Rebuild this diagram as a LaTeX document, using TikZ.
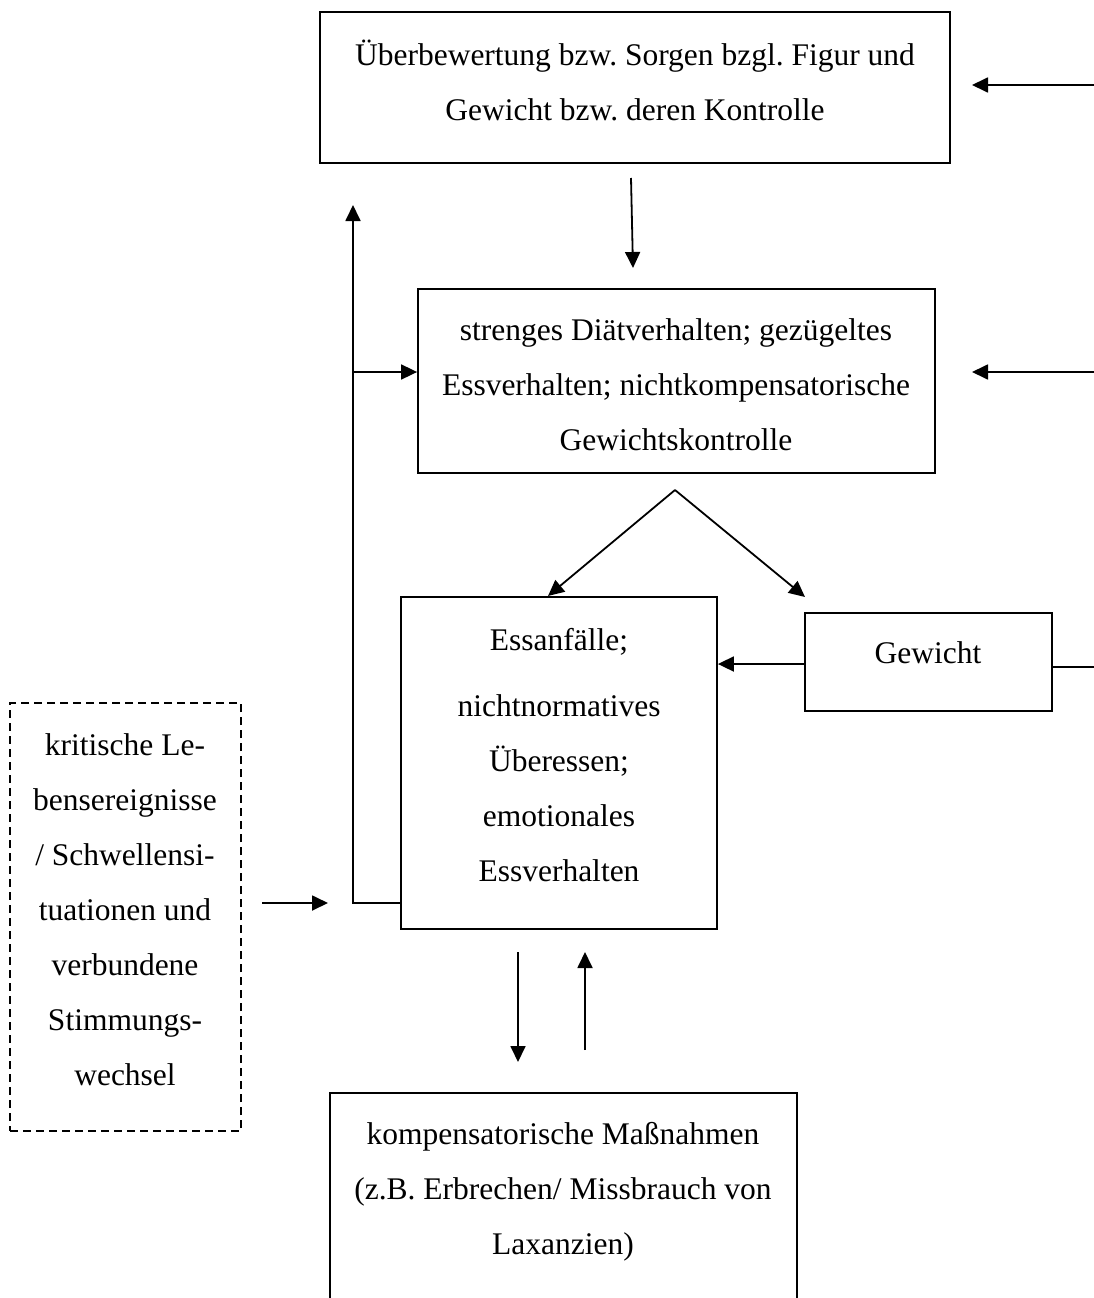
\documentclass[tikz,border=0pt]{standalone}
\usepackage{fontspec}
\setmainfont{Liberation Serif}
\usetikzlibrary{arrows.meta}
\frenchspacing
\begin{document}
\begin{tikzpicture}[x=1pt,y=-1pt,
  box/.style={draw, line width=1.8pt, inner sep=0pt},
  dbox/.style={draw, line width=1.5pt, dash pattern=on 8pt off 5pt, inner sep=0pt},
  txt/.style={align=center, font=\fontsize{31.5}{55}\selectfont, inner sep=0pt},
  conn/.style={line width=1.8pt},
  arr/.style={conn, -{Triangle[length=16pt,width=15pt]}}]
\useasboundingbox (0,0) rectangle (1094,1298);
\clip (0,0) rectangle (1094,1298);

% boxes
\node[box, minimum width=630pt, minimum height=151pt] (b1) at (635,87.5) {};
\node[box, minimum width=517pt, minimum height=184pt] (b2) at (676.5,381) {};
\node[box, minimum width=316pt, minimum height=332pt] (b3) at (559,763) {};
\node[box, minimum width=247pt, minimum height=98pt] (bg) at (928.5,662) {};
\node[dbox, minimum width=231pt, minimum height=428pt] (bd) at (125.5,917) {};
\node[box, minimum width=467pt, minimum height=240pt] (b4) at (563.5,1213) {};

% texts
\node[txt] (t1) at (635,80) {Überbewertung bzw. Sorgen bzgl. Figur und\\Gewicht bzw. deren Kontrolle};
\node[txt] (t2) at (676,385) {strenges Diätverhalten; gezügeltes\\Essverhalten; nichtkompensatorische\\Gewichtskontrolle};
\node[txt] (t3) at (559,755) {Essanfälle;\\[11pt]nichtnormatives\\Überessen;\\emotionales\\Essverhalten};
\node[txt] (tg) at (928,653) {Gewicht};
\node[txt] (td) at (125,910) {kritische Le-\\bensereignisse\\/ Schwellensi-\\tuationen und\\verbundene\\Stimmungs-\\wechsel};
\node[txt] (t4) at (563,1192) {kompensatorische Maßnahmen\\(z.B. Erbrechen/ Missbrauch von\\Laxanzien)};

% free ends of connectors
\coordinate (r1) at (1094,85);
\coordinate (r1e) at (972,85);
\coordinate (r2) at (1094,372);
\coordinate (r2e) at (972,372);
\coordinate (r3) at (1094,667);
\coordinate (d1s) at (631,178);
\coordinate (d1e) at (633,268);
\coordinate (apex) at (675,490);
\coordinate (tl) at (548,596);
\coordinate (tr) at (805,597);
\coordinate (lj) at (353,903);
\coordinate (lj2) at (353,372);
\coordinate (ltop) at (353,205);
\coordinate (ks) at (262,903);
\coordinate (ke) at (328,903);
\coordinate (ds) at (518,952);
\coordinate (de) at (518,1062);
\coordinate (us) at (585,1050);
\coordinate (ue) at (585,952);

% connectors
\draw[arr] (r1) -- (r1e);
\draw[arr] (r2) -- (r2e);
\draw[conn] (bg.east |- r3) -- (r3);
\draw[arr] (d1s) -- (d1e);
\draw[arr] (apex) -- (tl);
\draw[arr] (apex) -- (tr);
\draw[arr] (bg.west |- 0,664) -- (b3.east |- 0,664);
\draw[arr] (b3.west |- lj) -- (lj) -- (ltop);
\draw[arr] (lj2) -- (b2.west |- lj2);
\draw[arr] (ks) -- (ke);
\draw[arr] (ds) -- (de);
\draw[arr] (us) -- (ue);
\end{tikzpicture}
\end{document}
